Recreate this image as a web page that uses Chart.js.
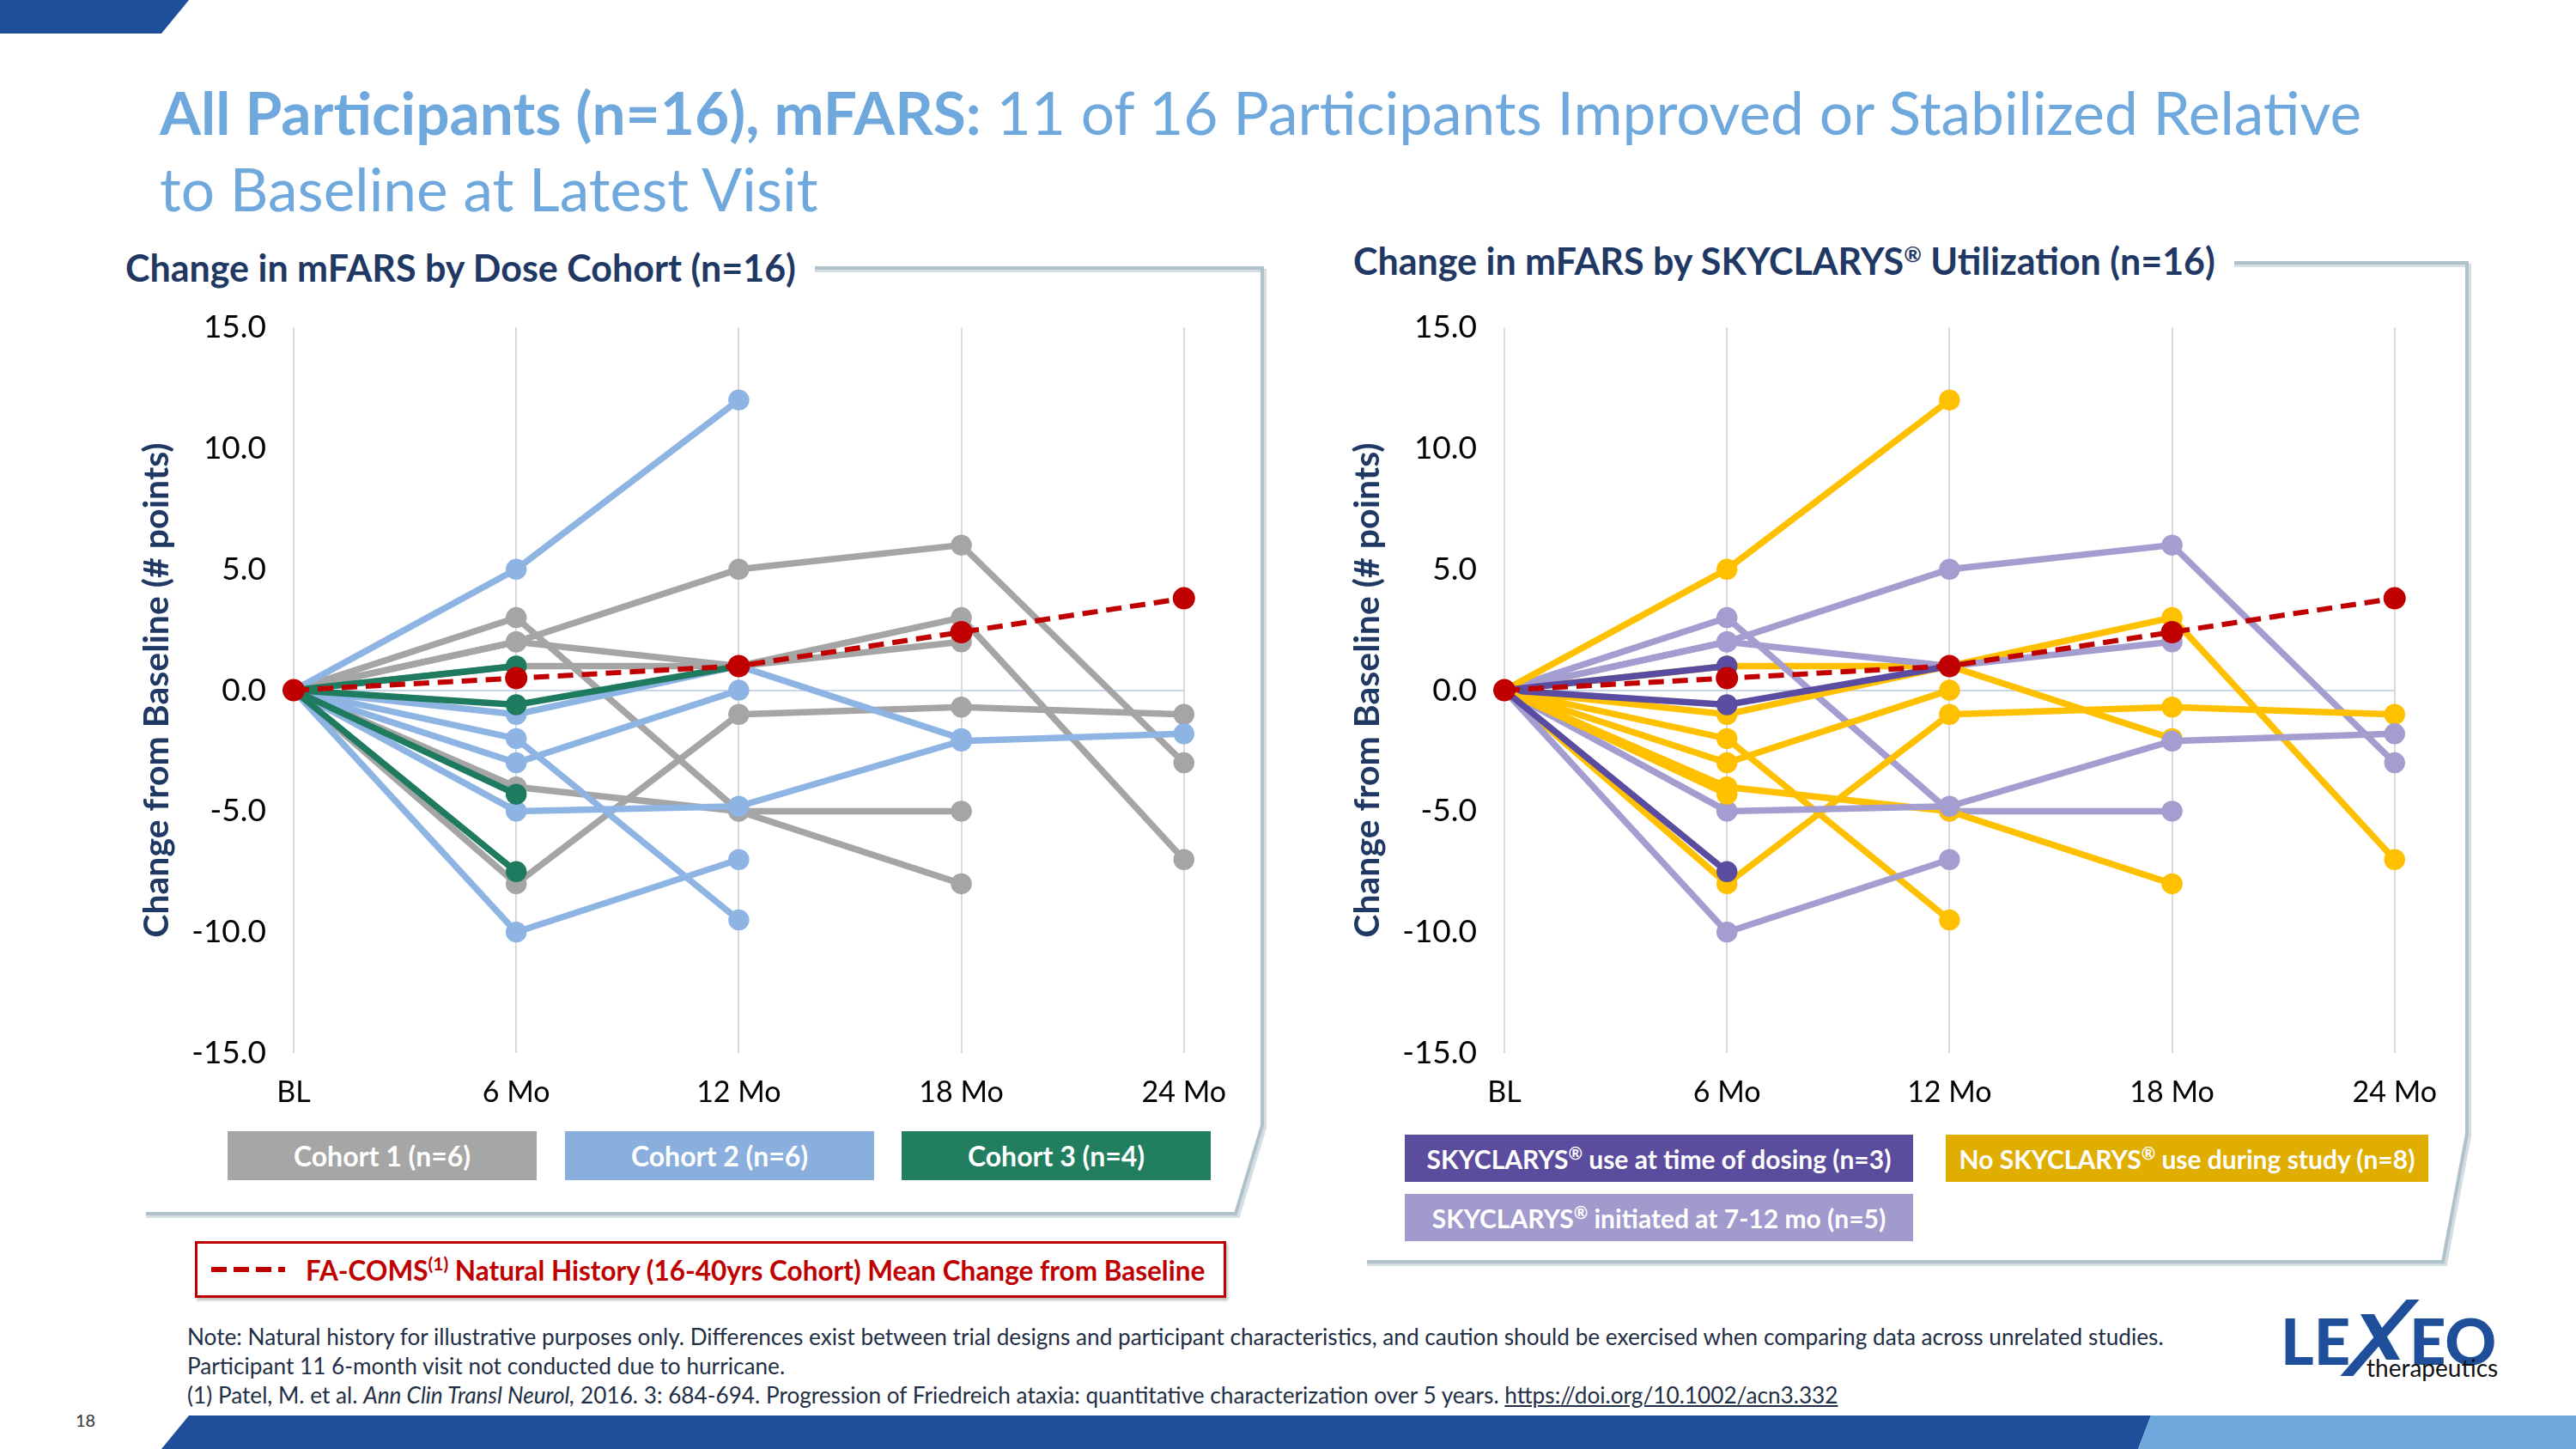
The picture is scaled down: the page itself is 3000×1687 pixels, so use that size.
<!DOCTYPE html>
<html>
<head>
<meta charset="utf-8">
<script src="https://cdn.jsdelivr.net/npm/chart.js@4.4.1/dist/chart.umd.min.js"></script>
<style>
  body { margin: 0; background: #fff; }
  #page { position: relative; width: 3000px; height: 1687px; overflow: hidden; font-family: Lato, "Open Sans", sans-serif; }
  .abs { position: absolute; }
  #title { left: 186px; top: 86px; color: #6FA8DC; font-size: 69.4px; line-height: 89px; white-space: nowrap; }
  #title b { font-weight: 700; }
  .chart-title { color: #1F3864; font-weight: 700; font-size: 43px; white-space: nowrap; }
  .legend-box { color: #fff; font-weight: 700; font-size: 30px; display: flex; align-items: center; justify-content: center; white-space: nowrap; }
  #nh-legend { left: 227px; top: 1445px; width: 1195px; height: 60px; border: 3px solid #C00000; box-shadow: 2px 3px 3px rgba(0,0,0,0.25); display: flex; align-items: center; color: #C00000; font-weight: 700; font-size: 31.5px; white-space: nowrap; }
  #nh-legend .dash { width: 86px; height: 6px; margin: 0 24px 0 16px; background: repeating-linear-gradient(90deg, #C00000 0 18px, transparent 18px 26px); }
  #notes { left: 218px; top: 1539px; color: #1F2F45; font-size: 26.2px; line-height: 34px; white-space: nowrap; }
  #notes a { color: #1F2F45; }
  .logo { color: #1F4E9A; font-size: 74px; font-weight: 900; line-height: 74px; }
  canvas { position: absolute; }
</style>
</head>
<body>
<div id="page">
  <div class="abs" style="left:0;top:0;width:220px;height:39px;background:#1F4E9A;clip-path:polygon(0 0,220px 0,188px 39px,0 39px);"></div>

  <div id="title" class="abs"><b>All Participants (n=16), mFARS:</b> 11 of 16 Participants Improved or Stabilized Relative<br>to Baseline at Latest Visit</div>

  <div class="abs chart-title" style="left:146px;top:286px;">Change in mFARS by Dose Cohort (n=16)</div>
  <div class="abs chart-title" style="left:1576px;top:278px;">Change in mFARS by SKYCLARYS<sup style="font-size:25px">®</sup> Utilization (n=16)</div>

  <svg class="abs" style="left:0;top:0" width="3000" height="1687">
    <polyline points="949,315 1473,315 1473,1313 1442,1416 170,1416" fill="none" stroke="#D5DEE2" stroke-width="4"/>
    <polyline points="949,312 1470,312 1470,1310 1439,1413 170,1413" fill="none" stroke="#AFC2CA" stroke-width="4"/>
    <polyline points="2602,309 2876,309 2876,1323 2848,1472 1592,1472" fill="none" stroke="#D5DEE2" stroke-width="4"/>
    <polyline points="2602,306 2873,306 2873,1320 2845,1469 1592,1469" fill="none" stroke="#AFC2CA" stroke-width="4"/>
  </svg>

  <canvas id="cohortChart" width="1304" height="979" style="left:150px;top:327px;"></canvas>
  <canvas id="skyChart" width="1304" height="979" style="left:1560px;top:327px;"></canvas>

  <div id="legends"></div>

  <div id="nh-legend" class="abs"><div class="dash"></div><span>FA-COMS<sup style="font-size:21px;">(1)</sup> Natural History (16-40yrs Cohort) Mean Change from Baseline</span></div>

  <div id="notes" class="abs">
    Note: Natural history for illustrative purposes only. Differences exist between trial designs and participant characteristics, and caution should be exercised when comparing data across unrelated studies.<br>
    Participant 11 6-month visit not conducted due to hurricane.<br>
    (1) Patel, M. et al. <i>Ann Clin Transl Neurol,</i> 2016. 3: 684-694. Progression of Friedreich ataxia: quantitative characterization over 5 years. <a href="#">https://doi.org/10.1002/acn3.332</a>
  </div>

  <div class="abs" style="left:88px;top:1641px;font-size:20px;color:#333;">18</div>

  <!-- logo -->
  <div class="abs logo" style="left:2656px;top:1524px;">LE</div>
  <div class="abs logo" style="left:2806px;top:1524px;">EO</div>
  <div class="abs" style="left:2764px;top:1513px;width:15px;height:89px;background:#1F4E9A;transform:skewX(-40.9deg);"></div>
  <div class="abs" style="left:2764px;top:1530px;width:16px;height:53px;background:#1F4E9A;transform:skewX(29.5deg);"></div>
  <div class="abs" style="left:2756px;top:1578px;font-size:28px;line-height:28px;color:#111;">therapeutics</div>

  <div class="abs" style="left:0;top:1648px;width:3000px;height:39px;background:#1F4E9A;clip-path:polygon(220px 0,2505px 0,2490px 39px,188px 39px);"></div>
  <div class="abs" style="left:0;top:1648px;width:3000px;height:39px;background:#6FA8DC;clip-path:polygon(2505px 0,3000px 0,3000px 39px,2490px 39px);"></div>
</div>

<script>
// visits on the x axis
const visits = ["BL", "6 Mo", "12 Mo", "18 Mo", "24 Mo"];
const yMin = -15;
const yMax = 15;
const yStep = 5;

// FA-COMS natural history mean change
const naturalHistory = [0, 0.5, 1.0, 2.4, 3.8];

// individual participants, change from baseline
const p01 = [0, 1, 1, 3, -7];
const p02 = [0, 2, 1, 2, null];
const p03 = [0, 3, -5, -5, null];
const p04 = [0, 2, 5, 6, -3];
const p05 = [0, -4, -5, -8, null];
const p06 = [0, -8, -1, -0.7, -1];
const p07 = [0, 5, 12, null, null];
const p08 = [0, -1, 1, -2, null];
const p09 = [0, -2, -9.5, null, null];
const p10 = [0, -3, 0, null, null];
const p11 = [0, -5, -4.8, -2.1, -1.8];
const p12 = [0, -10, -7, null, null];
const p13 = [0, 1, null, null, null];
const p14 = [0, -0.6, 1, null, null];
const p15 = [0, -4.3, null, null, null];
const p16 = [0, -7.5, null, null, null];
const participants = [p01, p02, p03, p04, p05, p06, p07, p08, p09, p10, p11, p12, p13, p14, p15, p16];

// group membership per participant
const doseCohort = [0, 0, 0, 0, 0, 0, 1, 1, 1, 1, 1, 1, 2, 2, 2, 2];
const skyGroup = [1, 2, 2, 2, 1, 1, 1, 1, 1, 1, 2, 2, 0, 0, 1, 0];

const cohortNames = ["Cohort 1 (n=6)", "Cohort 2 (n=6)", "Cohort 3 (n=4)"];
const skyNames = ["SKYCLARYS® use at time of dosing (n=3)", "No SKYCLARYS® use during study (n=8)", "SKYCLARYS® initiated at 7-12 mo (n=5)"];

// styling
const cohortLineColors = ["#A5A5A5", "#8EB4E3", "#1E7B5F"];
const cohortBoxColors = ["#A6A6A6", "#8AAFDD", "#217E5F"];
const skyLineColors = ["#5A4CA0", "#FFC000", "#A39DD0"];
const skyBoxColors = ["#5B4C9E", "#E0AE00", "#A09ACD"];
const cohortBoxPos = [[265, 1317, 360, 57], [658, 1317, 360, 57], [1050, 1317, 360, 57]];
const skyBoxPos = [[1636, 1321, 592, 55], [2266, 1321, 562, 55], [1636, 1390, 592, 55]];

const legends = document.getElementById("legends");
function addBox(text, color, pos, size) {
  const d = document.createElement("div");
  d.className = "abs legend-box";
  d.style.cssText += `left:${pos[0]}px;top:${pos[1]}px;width:${pos[2]}px;height:${pos[3]}px;background:${color};font-size:${size}px;`;
  d.innerHTML = "<span>" + text.replace("®", '<sup style="font-size:20px">®</sup>') + "</span>";
  legends.appendChild(d);
}
cohortNames.forEach((t, i) => addBox(t, cohortBoxColors[i], cohortBoxPos[i], 32));
skyNames.forEach((t, i) => addBox(t, skyBoxColors[i], skyBoxPos[i], 30));

function buildDatasets(groupOf, colors) {
  const sets = [{
    data: naturalHistory,
    borderColor: "#C00000",
    backgroundColor: "#C00000",
    borderWidth: 6,
    borderDash: [18, 10],
    pointRadius: 10,
    order: 0,
  }];
  participants.forEach((vals, i) => {
    const c = colors[groupOf[i]];
    sets.push({
      data: vals,
      borderColor: c,
      backgroundColor: c,
      borderWidth: 7.5,
      pointRadius: 8.5,
      order: 17 - i,
    });
  });
  return sets;
}

function makeChart(id, groupOf, colors) {
  return new Chart(document.getElementById(id), {
    type: "line",
    data: { labels: visits, datasets: buildDatasets(groupOf, colors) },
    options: {
      responsive: false,
      animation: false,
      devicePixelRatio: 1,
      layout: { padding: 0 },
      elements: { point: { borderWidth: 0, hoverRadius: 8 }, line: { tension: 0 } },
      plugins: { legend: { display: false }, tooltip: { enabled: false } },
      scales: {
        x: {
          offset: false,
          grid: { color: "#D9D9D9", lineWidth: 2, drawTicks: false },
          border: { display: false },
          ticks: { color: "#000", font: { family: "Lato", size: 34 }, padding: 26, maxRotation: 0, autoSkip: false },
          afterFit: (s) => { s.height = 80; },
        },
        y: {
          min: yMin,
          max: yMax,
          ticks: { stepSize: yStep, color: "#000", font: { family: "Lato", size: 37 }, padding: 32, callback: (v) => v.toFixed(1) },
          grid: { color: (ctx) => (ctx.tick && ctx.tick.value === 0 ? "#C9D6EA" : "rgba(0,0,0,0)"), lineWidth: 2, drawTicks: false },
          border: { display: false },
          title: {
            display: true,
            text: "Change from Baseline (# points)",
            color: "#1F3864",
            font: { family: "Lato", size: 41, weight: "bold" },
            padding: { top: 8, bottom: 0 },
          },
          afterFit: (s) => { s.width = 192; },
        },
      },
    },
  });
}

makeChart("cohortChart", doseCohort, cohortLineColors);
makeChart("skyChart", skyGroup, skyLineColors);
</script>
</body>
</html>
